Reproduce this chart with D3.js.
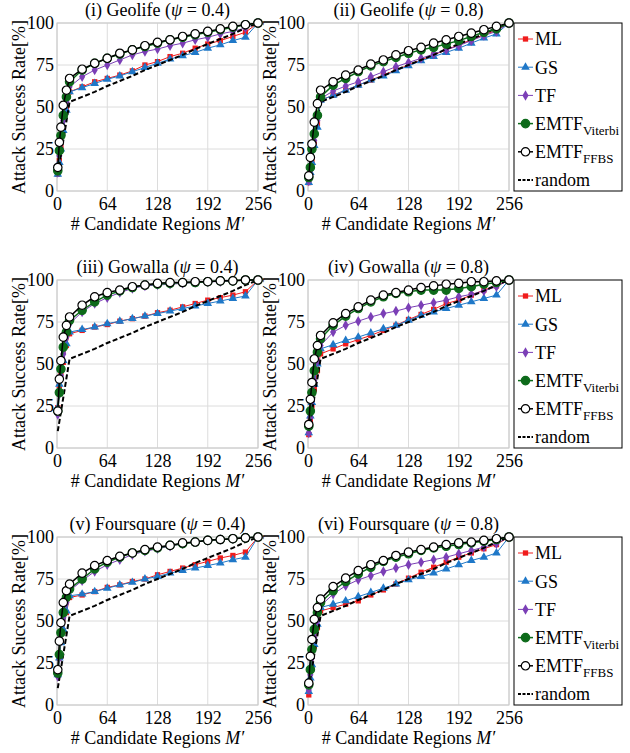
<!DOCTYPE html>
<html>

<head>
    <title>Attack Success Rate</title>
    <script src="https://d3js.org/d3.v7.min.js"></script>
    <style>
        body {
            margin: 0;
            background-color: #fff;
        }

        svg text {
            font-family: "Liberation Serif", "Times New Roman", serif;
            fill: #000;
        }

        .tick text {
            font-size: 18px;
        }
    </style>
</head>

<body>
    <svg id="chart" width="630" height="753" font-family="Liberation Serif"></svg>

    <script>
        // number of candidate regions M'
        var regions = [1, 3, 5, 8, 12, 16, 32, 48, 64, 80, 96, 112, 128, 144, 160, 176, 192, 208, 224, 240, 256];
        var xTicks = [0, 64, 128, 192, 256];
        var yTicks = [0, 25, 50, 75, 100];

        var panelNames = ["(i) Geolife", "(ii) Geolife", "(iii) Gowalla", "(iv) Gowalla", "(v) Foursquare", "(vi) Foursquare"];
        var psiValues = ["0.4", "0.8", "0.4", "0.8", "0.4", "0.8"];

        // one row per panel, same order as panelNames
        var mlRates = [
            [10, 18, 26, 37, 49, 59, 62, 65, 67, 69, 71.5, 75, 77, 80, 82, 85, 87.5, 89.5, 92, 94.5, 100],
            [5, 11, 18, 28, 40, 54, 57, 60, 63, 66, 69, 72, 75, 78, 81, 84, 87, 90, 93, 95.5, 100],
            [24, 37, 45, 51, 61, 68, 70, 72, 73.5, 75.5, 77, 78.5, 80.5, 82, 84, 86, 88, 89.5, 91, 93, 100],
            [8, 17, 25, 35, 46, 56, 59, 62, 64.5, 67, 70, 73, 76.5, 79.5, 82.5, 86, 88, 91, 94, 96.5, 100],
            [18, 28, 38, 44, 55, 64, 65.5, 67.5, 70, 71.5, 73.5, 75, 77.5, 79.5, 81.5, 83.5, 85.5, 87.5, 89, 91, 100],
            [6, 14, 22, 35, 46, 56, 58, 60, 62, 65.5, 68.5, 72, 75.5, 79, 82, 85, 88, 90.5, 93, 95.5, 100]
        ];
        var gsRates = [
            [10, 17, 25, 36, 48, 59, 61.5, 64, 66.5, 68.5, 71, 73.5, 76, 78.5, 80.5, 82.5, 85, 87, 89.5, 91.5, 100],
            [5, 11, 17, 27, 38, 54, 57, 60, 63, 66, 68.5, 71.5, 74.5, 77.5, 80, 82.5, 85, 88, 91, 93.5, 100],
            [24, 38, 47, 52, 62, 69, 70.5, 72, 74, 75.5, 77, 78.5, 80, 81.5, 83, 84.5, 86, 87.5, 89, 90.5, 100],
            [9, 19, 27, 38, 50, 59, 61.5, 64, 66, 68.5, 71, 73, 76, 79, 81, 83, 85, 87, 89, 91, 100],
            [18, 28, 37, 45, 56, 65, 66, 67.5, 69.5, 71.5, 73, 75, 76.5, 78.5, 80, 81.5, 83, 84.5, 86.5, 88, 100],
            [8, 16, 24, 36, 48, 58, 60, 62, 64.5, 67, 69.5, 72, 74.5, 76.5, 78.5, 81, 83.5, 86, 88, 90.5, 100]
        ];
        var tfRates = [
            [11, 21, 30, 42, 53, 62, 68, 72, 75, 78, 81, 83, 84.5, 86.5, 88, 90, 91.5, 93.5, 95, 97, 100],
            [6, 12, 20, 30, 42, 55, 59.5, 62.5, 65, 68, 71, 74, 76.5, 79, 81.5, 84, 86.5, 89.5, 92.5, 95, 100],
            [20, 32, 43, 56, 66, 74, 81, 86, 89.5, 92.5, 95, 96.5, 97, 97.5, 98, 98.5, 99, 99, 99.5, 100, 100],
            [9, 18, 28, 40, 52, 61, 69, 73, 75.5, 78, 80, 81.5, 83.5, 85, 86.5, 88, 90, 91.5, 93.5, 96, 100],
            [17, 28, 38, 52, 61, 68, 74, 79.5, 83.5, 86.5, 89.5, 91.5, 93, 94.5, 96, 97, 98, 98.5, 99, 99.5, 100],
            [9, 18, 28, 40, 50, 59, 66, 71, 74.5, 77, 79.5, 81.5, 83.5, 85, 86.5, 88, 90, 92, 94, 96, 100]
        ];
        var viterbiRates = [
            [12, 24, 33, 45, 56, 65, 72, 76, 79, 81.5, 84, 86, 88, 90, 91.5, 93, 94.5, 96, 97.5, 99, 100],
            [8, 14, 25, 34, 45, 56, 63, 67, 71, 74.5, 77, 79.5, 82, 84, 85.5, 87.5, 89.5, 92, 94.5, 96.5, 100],
            [22, 33, 47, 60, 69, 76, 82, 87, 91, 93.5, 95.5, 97, 97.5, 98, 98.5, 98.5, 99, 99.5, 99.5, 100, 100],
            [13, 22, 33, 46, 57, 65, 73, 78.5, 83, 87, 90, 92, 93, 94, 94, 94, 95, 96, 97.5, 98.5, 100],
            [19, 30, 43, 55, 64, 69, 75, 81, 85, 88, 90.5, 92, 93.5, 95, 96, 97, 98, 98.5, 99, 99.5, 100],
            [12, 21, 33, 45, 55, 61, 68, 73.5, 78, 82, 85.5, 88, 90, 92, 93.5, 94.5, 95.5, 96.5, 97.5, 98.5, 100]
        ];
        var ffbsRates = [
            [14, 29, 38, 51, 60, 67, 72.5, 76, 79, 82, 84, 86.5, 88.5, 90, 92, 93.5, 95, 96.5, 98, 99, 100],
            [9, 20, 28, 41, 52, 60, 65, 69, 72, 75.5, 78, 81, 83.5, 85.5, 88, 90, 92, 94, 96, 98, 100],
            [22, 41, 52, 66, 73, 78, 85, 90, 92.5, 94, 96, 97, 98, 98.5, 98.5, 99, 99, 99.5, 99.5, 100, 100],
            [14, 29, 39, 53, 61, 67, 74.5, 80, 84, 88, 91, 92.5, 94, 95.5, 96.5, 97.5, 98, 99, 99, 99.5, 100],
            [21, 38, 49, 61, 68, 72, 78.5, 83, 86, 88.5, 90.5, 92.5, 94, 95, 96.5, 97, 98, 98.5, 99, 99.5, 100],
            [13, 29, 39, 51, 58, 63, 70.5, 75.5, 80, 83.5, 86, 89, 91, 92.5, 94, 95.5, 96.5, 97, 98, 99, 100]
        ];
        // random guessing baseline, same in every panel
        var randomRates = [10, 15.7, 21.5, 30, 41.5, 53, 56, 59, 62.5, 65.5, 68.5, 72, 75, 78, 81, 84.5, 87.5, 90.5, 93.5, 97, 100];

        var svg = d3.select("#chart");
        var serif = "Liberation Serif, Times New Roman, serif";
        var plotW = 201,
            plotH = 168;
        var colLeft = [57, 308];
        var rowTop = [23, 280, 537];

        var series = [
            { name: "ML", rates: mlRates, color: "#f01c1c", symbol: d3.symbolSquare, size: 28 },
            { name: "GS", rates: gsRates, color: "#1f78c8", symbol: d3.symbolTriangle, size: 32 },
            { name: "TF", rates: tfRates, color: "#7b3fb6", symbol: d3.symbolDiamond, size: 32 },
            { name: "EMTF", sub: "Viterbi", rates: viterbiRates, color: "#0d6a1a", circle: true, fill: "#0d6a1a" },
            { name: "EMTF", sub: "FFBS", rates: ffbsRates, color: "#000", circle: true, fill: "#fff" },
            { name: "random", rates: null, color: "#000", dashed: true }
        ];
        var drawOrder = [0, 1, 2, 5, 3, 4];

        function addMarker(sel, s) {
            if (s.circle) {
                sel.append("circle").attr("r", 4.2)
                    .attr("fill", s.fill)
                    .attr("stroke", s.color)
                    .attr("stroke-width", 1.2);
            } else if (s.symbol) {
                sel.append("path")
                    .attr("d", d3.symbol().type(s.symbol).size(s.size))
                    .attr("fill", s.color);
            }
        }

        function drawPanel(p) {
            var left = colLeft[p % 2],
                top = rowTop[Math.floor(p / 2)];
            var x = d3.scaleLinear().domain([0, 256]).range([0, plotW]);
            var y = d3.scaleLinear().domain([0, 100]).range([plotH, 0]);

            var g = svg.append("g").attr("transform", "translate(" + left + "," + top + ")");

            g.selectAll(".vgrid").data(xTicks).enter().append("line")
                .attr("x1", d => x(d)).attr("x2", d => x(d))
                .attr("y1", 0).attr("y2", plotH)
                .attr("stroke", "#dcdcdc");
            g.selectAll(".hgrid").data(yTicks).enter().append("line")
                .attr("x1", 0).attr("x2", plotW)
                .attr("y1", d => y(d)).attr("y2", d => y(d))
                .attr("stroke", "#dcdcdc");
            g.append("rect")
                .attr("width", plotW).attr("height", plotH)
                .attr("fill", "none").attr("stroke", "#c8c8c8");

            var xAxis = g.append("g").attr("transform", "translate(0," + plotH + ")")
                .call(d3.axisBottom(x).tickValues(xTicks).tickSize(0).tickPadding(6))
                .attr("font-family", serif).attr("font-size", 18);
            xAxis.select(".domain").remove();
            var yAxis = g.append("g")
                .call(d3.axisLeft(y).tickValues(yTicks).tickSize(0).tickPadding(3))
                .attr("font-family", serif).attr("font-size", 18);
            yAxis.select(".domain").remove();

            var title = g.append("text")
                .attr("x", plotW / 2).attr("y", -7)
                .attr("text-anchor", "middle")
                .attr("font-family", serif)
                .style("font-size", "18px");
            title.append("tspan").text(panelNames[p] + " (");
            title.append("tspan").style("font-style", "italic").text("\u03c8");
            title.append("tspan").text(" = " + psiValues[p] + ")");

            var xLabel = g.append("text")
                .attr("x", plotW / 2).attr("y", plotH + 39)
                .attr("text-anchor", "middle")
                .attr("font-family", serif)
                .style("font-size", "18px");
            xLabel.append("tspan").text("# Candidate Regions ");
            xLabel.append("tspan").style("font-style", "italic").text("M\u2032");

            g.append("text")
                .attr("transform", "translate(-32," + plotH / 2 + ") rotate(-90)")
                .attr("text-anchor", "middle")
                .attr("font-family", serif)
                .style("font-size", "18px")
                .text("Attack Success Rate[%]");

            var line = d3.line().x(d => x(d.m)).y(d => y(d.v));

            drawOrder.forEach(function(k) {
                var s = series[k];
                var vals = s.rates ? s.rates[p] : randomRates;
                var pts = regions.map((m, i) => ({ m: m, v: vals[i] }));

                g.append("path").datum(pts)
                    .attr("d", line)
                    .attr("fill", "none")
                    .attr("stroke", s.color)
                    .attr("stroke-width", s.dashed ? 2 : (s.circle ? 1.5 : 1))
                    .attr("stroke-dasharray", s.dashed ? "5,2.5" : null);

                if (!s.dashed) {
                    var marks = g.selectAll(null).data(pts).enter().append("g")
                        .attr("transform", d => "translate(" + x(d.m) + "," + y(d.v) + ")");
                    addMarker(marks, s);
                }
            });

            if (p % 2 == 1) drawLegend(left + plotW + 5, top);
        }

        function drawLegend(lx, ly) {
            var lg = svg.append("g").attr("transform", "translate(" + lx + "," + ly + ")");
            lg.append("rect")
                .attr("width", 108).attr("height", plotH)
                .attr("fill", "#fff").attr("stroke", "#000");

            series.forEach(function(s, i) {
                var row = lg.append("g").attr("transform", "translate(0," + (16 + i * 28.2) + ")");
                row.append("line")
                    .attr("x1", 4).attr("x2", 19)
                    .attr("stroke", s.color)
                    .attr("stroke-width", s.dashed ? 2 : (s.circle ? 1.5 : 1))
                    .attr("stroke-dasharray", s.dashed ? "3,1.5" : null);
                var mk = row.append("g").attr("transform", "translate(11.5,0)");
                addMarker(mk, s);
                var t = row.append("text").attr("x", 21).attr("dy", "0.35em")
                    .attr("font-family", serif)
                    .style("font-size", "18px");
                t.append("tspan").text(s.name);
                if (s.sub) {
                    t.append("tspan").attr("dy", 5).style("font-size", "13px").text(s.sub);
                }
            });
        }

        for (var p = 0; p < 6; p++) {
            drawPanel(p);
        }
    </script>
</body>

</html>
